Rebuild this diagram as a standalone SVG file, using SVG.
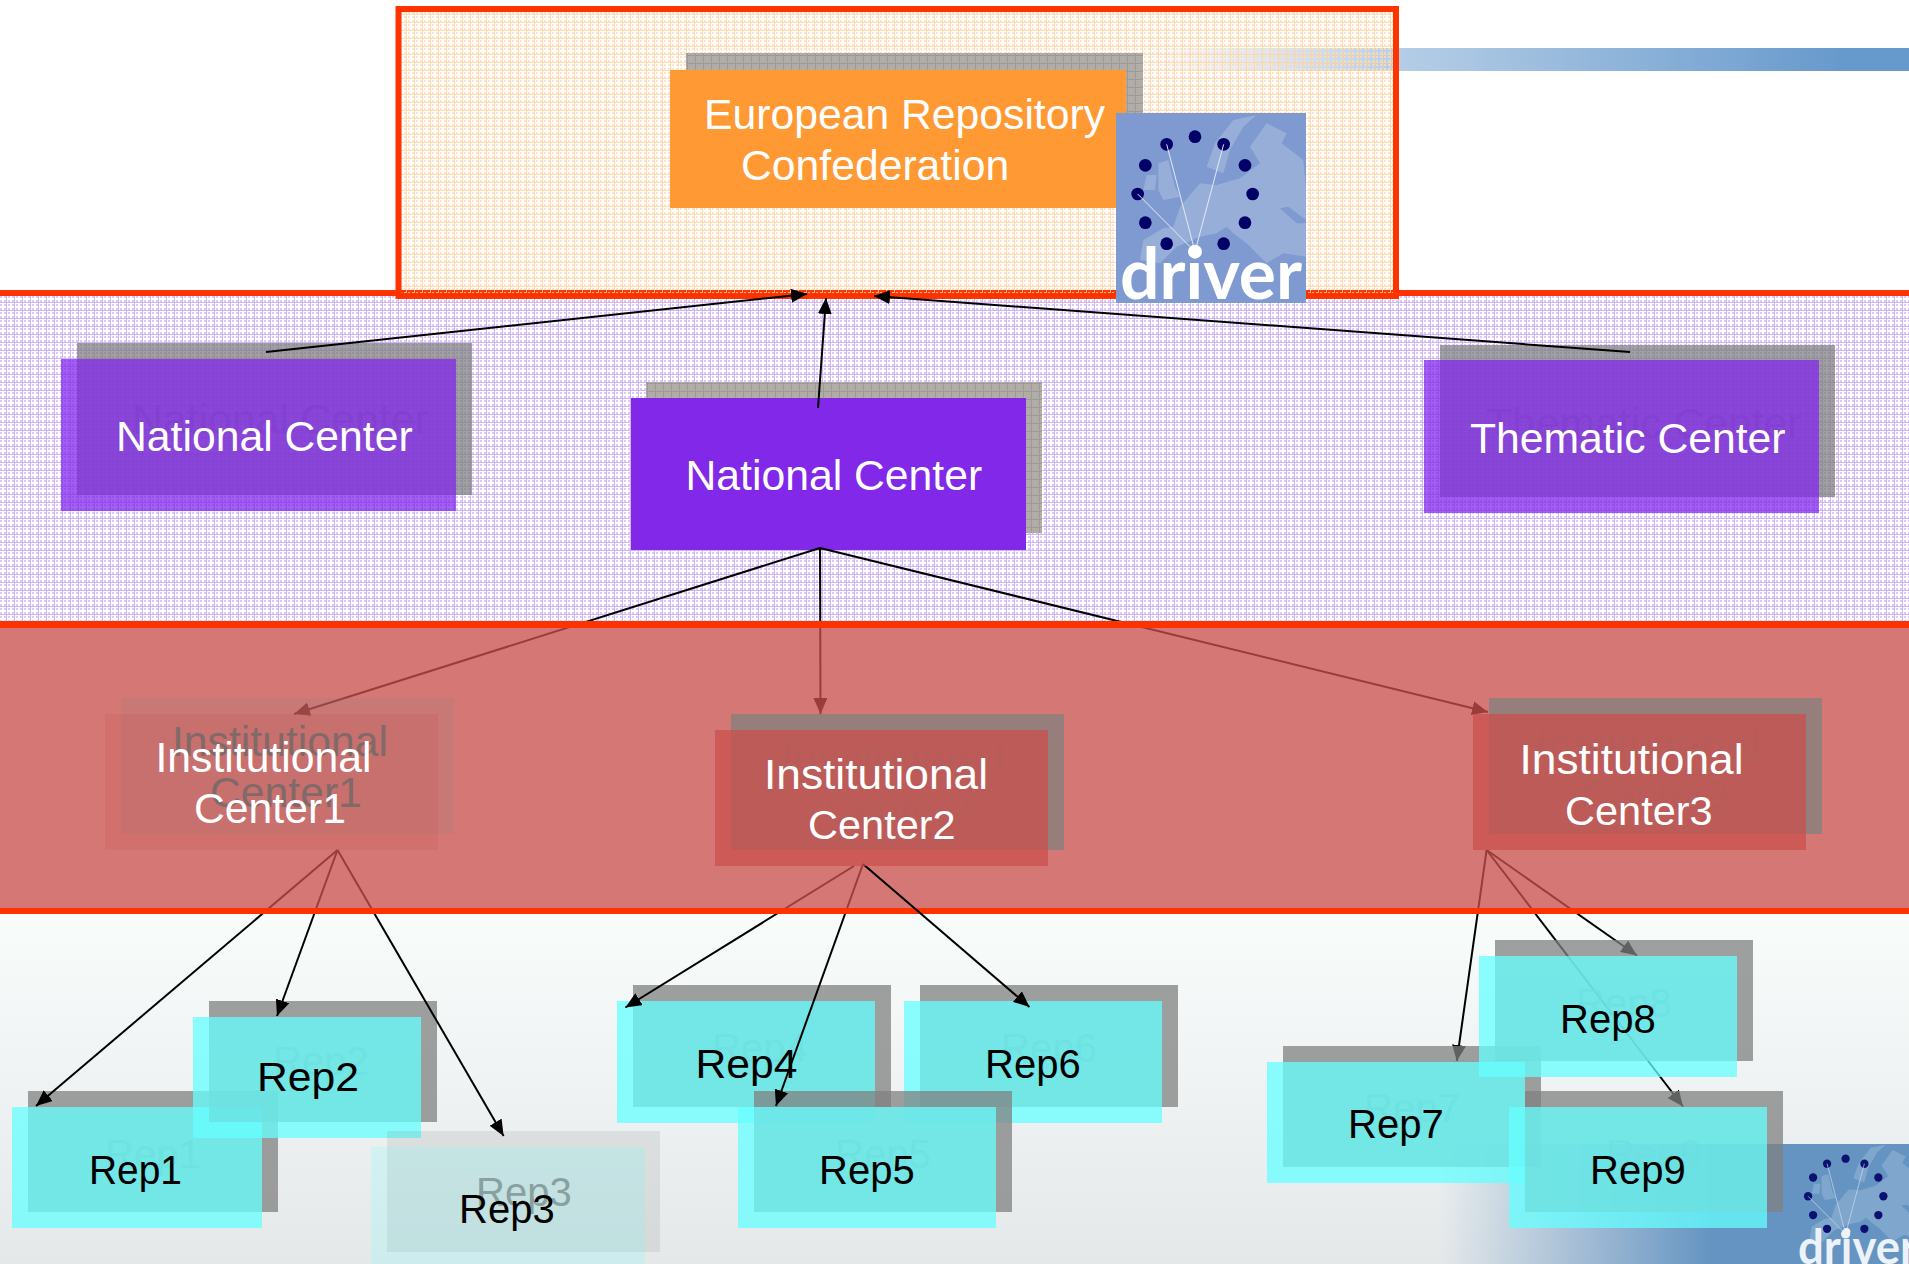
<svg xmlns="http://www.w3.org/2000/svg" xmlns:xlink="http://www.w3.org/1999/xlink" width="1909" height="1264" viewBox="0 0 1909 1264">
<style>
text{font-family:"Liberation Sans",Arial,sans-serif}
.t{font-size:42.7px;fill:#fff}
.r{font-size:40px;fill:#000}
.gr{font-size:40px;fill:#808080;fill-opacity:.75}
.gn{font-size:42.7px;fill:#808080;fill-opacity:.75}
.sh{fill:#808080;fill-opacity:.75}
.nat{fill:#8228e9;fill-opacity:.75}
.rep{fill:#66ffff;fill-opacity:.75}
.inst{fill:#ca504e;fill-opacity:.75}
.stripe{fill:#ff3300}
.cn{stroke:#000;stroke-width:2;fill:none;marker-end:url(#ah)}
.drv{font-family:Lato,"Open Sans",sans-serif;font-weight:700;fill:#fff}
</style>
<defs>
<marker id="ah" markerUnits="userSpaceOnUse" markerWidth="17" markerHeight="14" refX="16" refY="7" orient="auto"><path d="M0 0L16 7L0 14Z" fill="#000"/></marker>
<pattern id="lav" width="8" height="8" patternUnits="userSpaceOnUse">
<rect width="8" height="8" fill="#fff"/>
<path d="M0 0h2v2h-2zM4 0h2v2h-2zM0 4h2v2h-2zM4 4h2v2h-2z" fill="#dcc8fa"/>
<rect y="6" width="8" height="1" fill="#cfb4f8"/><rect x="6" width="1" height="8" fill="#cfb4f8"/>
</pattern>
<pattern id="org" width="8" height="8" patternUnits="userSpaceOnUse">
<path d="M0 0h2v2h-2zM4 0h2v2h-2zM0 4h2v2h-2zM4 4h2v2h-2z" fill="#ffdcb8" fill-opacity=".8"/>
<rect y="6" width="8" height="1" fill="#ffd3a3" fill-opacity=".8"/><rect x="6" width="1" height="8" fill="#ffd3a3" fill-opacity=".8"/>
</pattern>
<pattern id="grid" width="8" height="8" patternUnits="userSpaceOnUse">
<rect width="8" height="8" fill="#b1aca6"/>
<rect y="7" width="8" height="1" fill="#9a9a9a"/><rect x="7" width="1" height="8" fill="#9a9a9a"/>
</pattern>
<linearGradient id="bar" gradientUnits="userSpaceOnUse" x1="1144" y1="0" x2="1848" y2="0">
<stop offset="0" stop-color="#6699cc" stop-opacity="0"/><stop offset=".36" stop-color="#6699cc" stop-opacity=".48"/><stop offset="1" stop-color="#6699cc"/>
</linearGradient>
<linearGradient id="panel" x1="0" y1="0" x2="0" y2="1">
<stop offset="0" stop-color="#f8fdfc"/><stop offset="1" stop-color="#e5e8e9"/>
</linearGradient>
<linearGradient id="corner" gradientUnits="userSpaceOnUse" x1="1440" y1="0" x2="1712" y2="0">
<stop offset="0" stop-color="#6594c2" stop-opacity="0"/><stop offset="1" stop-color="#6594c2"/>
</linearGradient>
<g id="logoart">
<path fill="#fff" fill-opacity=".2" d="M130 420L190 385L220 380L240 320L300 250L350 255L420 235L480 190L450 140L500 70L560 100L545 130L610 180L618 260L618 360L565 320L540 325L590 370L618 370L618 470L550 460L500 490L440 430L400 400L380 380L350 400L300 410L230 440L180 490L120 480ZM320 200L345 130L400 60L470 45L430 80L390 150L370 220ZM175 190L205 180L225 260L240 290L190 300L175 270ZM140 225L170 225L165 270L130 270Z"/>
<g fill="#000066"><circle cx="285" cy="110" r="19"/><circle cx="371" cy="133" r="19"/><circle cx="435" cy="196" r="19"/><circle cx="458" cy="282" r="19"/><circle cx="435" cy="368" r="19"/><circle cx="371" cy="431" r="19"/><circle cx="200" cy="431" r="19"/><circle cx="136" cy="368" r="19"/><circle cx="113" cy="282" r="19"/><circle cx="136" cy="196" r="19"/><circle cx="200" cy="133" r="19"/></g>
<path d="M113 282L285 455L200 133M285 455L371 133" fill="none" stroke="#e4e9f6" stroke-width="3"/>
<circle cx="285" cy="455" r="21" fill="#fff"/>
</g>
</defs>

<rect width="1909" height="1264" fill="#fff"/>
<rect id="top-bar" x="1144" y="48" width="765" height="23" fill="url(#bar)"/>
<rect id="lavender-band" x="0" y="296" width="1909" height="325" fill="url(#lav)"/>
<rect id="lower-panel" x="0" y="914" width="1909" height="350" fill="url(#panel)"/>
<rect id="corner-fade" x="1440" y="1144" width="469" height="120" fill="url(#corner)"/>
<g id="corner-logo" opacity=".88">
<use href="#logoart" xlink:href="#logoart" transform="translate(1783.4 1134.7) scale(.2183)"/>
<text class="drv" x="1798" y="1264" font-size="47" textLength="119" lengthAdjust="spacingAndGlyphs">driver</text>
</g>
<rect class="stripe" x="0" y="290" width="1909" height="6"/>
<rect id="confederation-box" x="398.5" y="9" width="997.5" height="287" fill="url(#org)" stroke="#ff3300" stroke-width="6"/>

<g id="european-repository">
<rect x="686" y="53" width="457" height="138" fill="url(#grid)"/>
<rect x="670" y="70" width="456" height="138" fill="#ff9933"/>
<text class="t" x="704" y="129">European Repository</text>
<text class="t" x="741" y="180">Confederation</text>
</g>
<g id="driver-logo">
<rect x="1116" y="113" width="190" height="190" fill="#7e9ad0"/>
<use href="#logoart" xlink:href="#logoart" transform="translate(1100 100) scale(.3333)"/>
<text class="drv" x="1120" y="299" font-size="70" textLength="182" lengthAdjust="spacingAndGlyphs">driver</text>
</g>

<g id="national-center-1">
<rect class="sh" x="77" y="343" width="395" height="152"/>
<text class="gn" x="132" y="434">National Center</text>
<rect class="nat" x="61" y="359" width="395" height="152"/>
<text class="t" x="116" y="451">National Center</text>
</g>
<g id="national-center-2">
<rect x="646" y="382" width="396" height="151" fill="url(#grid)"/>
<rect x="631" y="398" width="395" height="152" fill="#8228e9"/>
<text class="t" x="685.5" y="490">National Center</text>
</g>
<g id="thematic-center">
<rect class="sh" x="1440" y="345" width="395" height="152"/>
<text class="gn" x="1486" y="438">Thematic Center</text>
<rect class="nat" x="1424" y="360" width="395" height="153"/>
<text class="t" x="1470" y="453">Thematic Center</text>
</g>

<g id="rep1">
<rect class="sh" x="28" y="1091" width="250" height="121"/>
<text class="gr" x="105" y="1168">Rep1</text>
<rect class="rep" x="12" y="1107" width="250" height="121"/>
<text class="r" x="89" y="1184" textLength="93" lengthAdjust="spacingAndGlyphs">Rep1</text>
</g>
<g id="rep2">
<rect class="sh" x="209" y="1001" width="228" height="121"/>
<text class="gr" x="273" y="1075">Rep2</text>
<rect class="rep" x="193" y="1017" width="228" height="121"/>
<text class="r" x="257" y="1091" textLength="102" lengthAdjust="spacingAndGlyphs">Rep2</text>
</g>
<g id="rep3">
<rect x="387" y="1131" width="273" height="121" fill="#808080" fill-opacity=".15"/>
<text class="r" x="476" y="1206" style="fill:#928a8b">Rep3</text>
<rect x="371" y="1147" width="274" height="117" fill="#66ffff" fill-opacity=".18"/>
<text class="r" x="459" y="1223">Rep3</text>
</g>
<g id="rep4">
<rect class="sh" x="633" y="985" width="258" height="122"/>
<text class="gr" x="712" y="1062">Rep4</text>
<rect class="rep" x="617" y="1001" width="258" height="122"/>
<text class="r" x="695.5" y="1078" textLength="102" lengthAdjust="spacingAndGlyphs">Rep4</text>
</g>
<g id="rep6">
<rect class="sh" x="920" y="985" width="258" height="122"/>
<text class="gr" x="1001" y="1062">Rep6</text>
<rect class="rep" x="904" y="1001" width="258" height="122"/>
<text class="r" x="985" y="1078">Rep6</text>
</g>
<g id="rep5">
<rect class="sh" x="754" y="1091" width="258" height="121"/>
<text class="gr" x="835" y="1168">Rep5</text>
<rect class="rep" x="738" y="1107" width="258" height="121"/>
<text class="r" x="819" y="1184">Rep5</text>
</g>

<g id="connectors">
<line class="cn" x1="266" y1="352" x2="807" y2="294"/>
<line class="cn" x1="818" y1="408" x2="826" y2="298"/>
<line class="cn" x1="1630" y1="352" x2="874" y2="296"/>
<line class="cn" x1="820" y1="548" x2="294" y2="714"/>
<line class="cn" x1="820" y1="548" x2="820.5" y2="714"/>
<line class="cn" x1="820" y1="548" x2="1488" y2="712"/>
<line class="cn" x1="337.5" y1="850" x2="36" y2="1106"/>
<line class="cn" x1="337.5" y1="850" x2="277" y2="1016"/>
<line class="cn" x1="337.5" y1="850" x2="503.6" y2="1136"/>
<line class="cn" x1="854" y1="866" x2="625.4" y2="1007.5"/>
<line class="cn" x1="863" y1="864" x2="776" y2="1106"/>
<line class="cn" x1="1486.6" y1="850" x2="1456.8" y2="1061"/>
<line class="cn" x1="1486.6" y1="850" x2="1637" y2="955.5"/>
<line class="cn" x1="1486.6" y1="850" x2="1683" y2="1106.5"/>
</g>

<rect id="institutional-band" x="0" y="628" width="1909" height="280" fill="#c94f4b" fill-opacity=".77"/>
<rect class="stripe" x="0" y="621" width="1909" height="7"/>
<rect class="stripe" x="0" y="908" width="1909" height="6"/>

<g id="connector-rep6">
<line class="cn" x1="863" y1="864" x2="1029.5" y2="1007"/>
</g>

<g id="institutional-center-1">
<rect x="121" y="698" width="333" height="136" fill="#808080" fill-opacity=".15"/>
<text class="gn" x="172" y="756" style="fill:#707070;fill-opacity:1">Institutional</text>
<text class="gn" x="210" y="807" style="fill:#707070;fill-opacity:1">Center1</text>
<rect x="105" y="714" width="333" height="136" fill="#ca504e" fill-opacity=".2"/>
<text class="t" x="155.5" y="772">Institutional</text>
<text class="t" x="194" y="823">Center1</text>
</g>
<g id="institutional-center-2">
<rect class="sh" x="731" y="714" width="333" height="136"/>
<text class="gn" x="780" y="773" textLength="224" lengthAdjust="spacingAndGlyphs">Institutional</text>
<text class="gn" x="824" y="823" style="font-size:41.5px">Center2</text>
<rect class="inst" x="715" y="730" width="333" height="136"/>
<text class="t" x="764" y="789" textLength="224" lengthAdjust="spacingAndGlyphs">Institutional</text>
<text class="t" x="808" y="839" style="font-size:41.5px">Center2</text>
</g>
<g id="institutional-center-3">
<rect class="sh" x="1489" y="698" width="333" height="136"/>
<text class="gn" x="1535" y="758" textLength="224" lengthAdjust="spacingAndGlyphs">Institutional</text>
<text class="gn" x="1581" y="809" style="font-size:41.5px">Center3</text>
<rect class="inst" x="1473" y="714" width="333" height="136"/>
<text class="t" x="1519.5" y="774" textLength="224" lengthAdjust="spacingAndGlyphs">Institutional</text>
<text class="t" x="1565" y="825" style="font-size:41.5px">Center3</text>
</g>

<g id="rep7">
<rect class="sh" x="1283" y="1046" width="258" height="121"/>
<text class="gr" x="1364" y="1122">Rep7</text>
<rect class="rep" x="1267" y="1062" width="258" height="121"/>
<text class="r" x="1348" y="1138">Rep7</text>
</g>
<g id="rep8">
<rect class="sh" x="1495" y="940" width="258" height="121"/>
<text class="gr" x="1576" y="1017">Rep8</text>
<rect class="rep" x="1479" y="956" width="258" height="121"/>
<text class="r" x="1560" y="1033">Rep8</text>
</g>
<g id="rep9">
<rect class="sh" x="1525" y="1091" width="258" height="121"/>
<text class="gr" x="1606" y="1168">Rep9</text>
<rect class="rep" x="1509" y="1107" width="258" height="121"/>
<text class="r" x="1590" y="1184">Rep9</text>
</g>
</svg>
